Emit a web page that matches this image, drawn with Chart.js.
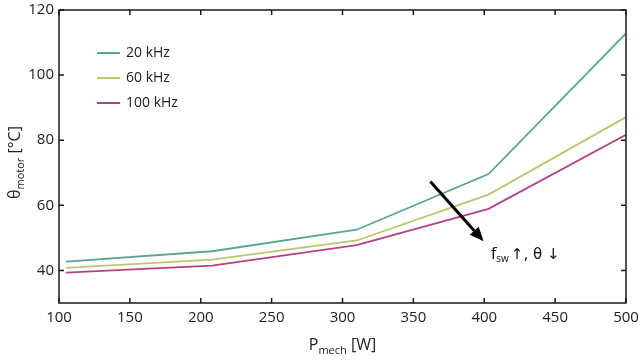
<!DOCTYPE html>
<html><head><meta charset="utf-8">
<script src="https://cdn.jsdelivr.net/npm/chart.js@4.4.1/dist/chart.umd.min.js"></script>
<style>html,body{margin:0;padding:0;background:#fff}#wrap{width:640px;height:361px}</style>
</head><body><div id="wrap"><canvas id="c" width="640" height="361"></canvas></div>
<script>
const pmech = [105, 208, 310, 403, 500];
const theta20 = [42.7, 45.9, 52.5, 69.6, 112.8];
const theta60 = [40.8, 43.3, 49.2, 63.3, 87.1];
const theta100 = [39.3, 41.5, 47.8, 58.9, 81.7];
const seriesLabels = ['20 kHz', '60 kHz', '100 kHz'];
const seriesColors = ['#5aa592', '#bcc66c', '#b83f83'];
const xTicks = [100, 150, 200, 250, 300, 350, 400, 450, 500];
const yTicks = [40, 60, 80, 100, 120];
const arrowFrom = [362, 67.3];
const arrowTo = [399.5, 49.0];
const annotPos = [404.5, 43.5];

const FONT = '"Open Sans", sans-serif';
const seriesData = [theta20, theta60, theta100];

const frame = {
  id: 'frame',
  afterDraw(chart) {
    const {ctx, chartArea: a, scales: {x, y}} = chart;
    ctx.save();
    ctx.strokeStyle = '#1a1a1a';
    ctx.lineWidth = 1.5;
    ctx.strokeRect(a.left, a.top, a.right - a.left, a.bottom - a.top);
    const L = 5;
    ctx.beginPath();
    xTicks.forEach(v => {
      const px = x.getPixelForValue(v);
      ctx.moveTo(px, a.bottom); ctx.lineTo(px, a.bottom - L);
      ctx.moveTo(px, a.top); ctx.lineTo(px, a.top + L);
    });
    yTicks.forEach(v => {
      const py = y.getPixelForValue(v);
      ctx.moveTo(a.left, py); ctx.lineTo(a.left + L, py);
      ctx.moveTo(a.right, py); ctx.lineTo(a.right - L, py);
    });
    ctx.stroke();

    // legend
    ctx.font = '14px ' + FONT;
    ctx.textBaseline = 'middle';
    chart.data.datasets.forEach((ds, i) => {
      const yy = 53 + i * 25;
      ctx.strokeStyle = ds.borderColor;
      ctx.lineWidth = 2;
      ctx.beginPath(); ctx.moveTo(97, yy); ctx.lineTo(120, yy); ctx.stroke();
      ctx.fillStyle = '#222';
      ctx.textAlign = 'left';
      ctx.fillText(ds.label, 126, yy);
    });

    // arrow
    const x0 = x.getPixelForValue(arrowFrom[0]), y0 = y.getPixelForValue(arrowFrom[1]);
    const x1 = x.getPixelForValue(arrowTo[0]), y1 = y.getPixelForValue(arrowTo[1]);
    const ang = Math.atan2(y1 - y0, x1 - x0);
    const hl = 14, hw = 6;
    const bx = x1 - hl * Math.cos(ang), by = y1 - hl * Math.sin(ang);
    ctx.strokeStyle = '#000'; ctx.fillStyle = '#000';
    ctx.lineWidth = 3;
    ctx.beginPath(); ctx.moveTo(x0, y0); ctx.lineTo(bx, by); ctx.stroke();
    ctx.beginPath();
    ctx.moveTo(x1, y1);
    ctx.lineTo(bx + hw * Math.sin(ang), by - hw * Math.cos(ang));
    ctx.lineTo(bx - hw * Math.sin(ang), by + hw * Math.cos(ang));
    ctx.closePath(); ctx.fill();

    // annotation text
    let tx = x.getPixelForValue(annotPos[0]);
    const ty = y.getPixelForValue(annotPos[1]);
    ctx.textAlign = 'left'; ctx.textBaseline = 'alphabetic';
    ctx.fillStyle = '#111';
    ctx.font = '17px ' + FONT;
    ctx.fillText('f', tx, ty); tx += ctx.measureText('f').width;
    ctx.font = '10px ' + FONT;
    ctx.fillText('sw', tx, ty + 3); tx += ctx.measureText('sw').width + 2;
    ctx.font = '15px "DejaVu Sans", sans-serif';
    ctx.fillText('\u2191, \u03b8 \u2193', tx, ty);

    // x title
    ctx.fillStyle = '#222';
    let s1 = 'P', s2 = 'mech', s3 = ' [W]';
    ctx.font = '16px ' + FONT; const w1 = ctx.measureText(s1).width, w3 = ctx.measureText(s3).width;
    ctx.font = '11px ' + FONT; const w2 = ctx.measureText(s2).width;
    let sx = (a.left + a.right) / 2 - (w1 + w2 + w3) / 2;
    const sy = 350;
    ctx.font = '16px ' + FONT; ctx.fillText(s1, sx, sy); sx += w1;
    ctx.font = '11px ' + FONT; ctx.fillText(s2, sx, sy + 4); sx += w2;
    ctx.font = '16px ' + FONT; ctx.fillText(s3, sx, sy);

    // y title
    ctx.save();
    ctx.translate(20, (a.top + a.bottom) / 2 + 6);
    ctx.rotate(-Math.PI / 2);
    s1 = '\u03b8'; s2 = 'motor'; s3 = ' [\u00b0C]';
    ctx.font = '16px ' + FONT; const v1 = ctx.measureText(s1).width, v3 = ctx.measureText(s3).width;
    ctx.font = '11px ' + FONT; const v2 = ctx.measureText(s2).width;
    let rx = -(v1 + v2 + v3) / 2;
    ctx.font = '16px ' + FONT; ctx.fillText(s1, rx, 0); rx += v1;
    ctx.font = '11px ' + FONT; ctx.fillText(s2, rx, 4); rx += v2;
    ctx.font = '16px ' + FONT; ctx.fillText(s3, rx, 0);
    ctx.restore();
    ctx.restore();
  }
};

new Chart(document.getElementById('c'), {
  type: 'line',
  data: {
    datasets: seriesData.map((d, i) => ({
      label: seriesLabels[i],
      data: pmech.map((p, j) => ({x: p, y: d[j]})),
      borderColor: seriesColors[i],
      backgroundColor: seriesColors[i],
      borderWidth: 1.8,
      pointRadius: 0,
      tension: 0,
      fill: false
    }))
  },
  options: {
    responsive: false,
    animation: false,
    layout: {padding: {left: 0, right: 14, top: 10, bottom: 0}},
    plugins: {legend: {display: false}, tooltip: {enabled: false}},
    scales: {
      x: {
        type: 'linear', min: 100, max: 500,
        afterBuildTicks: s => { s.ticks = xTicks.map(v => ({value: v})); },
        afterFit: s => { s.height = 58; s.paddingLeft = 0; s.paddingRight = 0; },
        grid: {display: false, drawTicks: false},
        border: {display: false},
        ticks: {padding: 6, color: '#222', font: {family: FONT, size: 15}, maxRotation: 0}
      },
      y: {
        min: 30, max: 120,
        afterBuildTicks: s => { s.ticks = yTicks.map(v => ({value: v})); },
        afterFit: s => { s.width = 59; s.paddingTop = 0; s.paddingBottom = 0; },
        grid: {display: false, drawTicks: false},
        border: {display: false},
        ticks: {padding: 5, color: '#222', font: {family: FONT, size: 15}}
      }
    }
  },
  plugins: [frame]
});
</script></body></html>
